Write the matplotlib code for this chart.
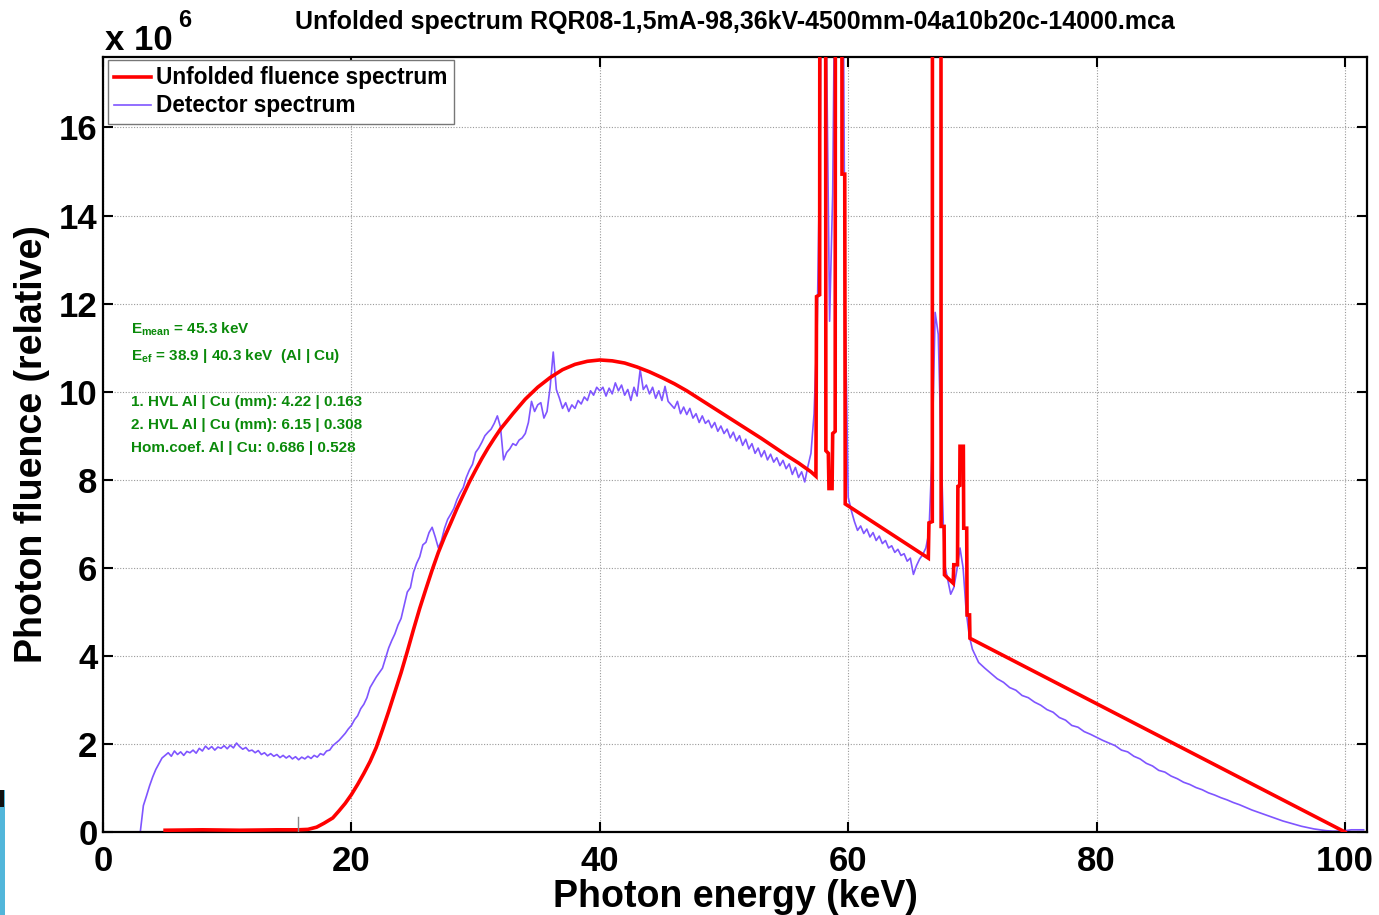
import numpy as np
import matplotlib
matplotlib.use('Agg')
import matplotlib.pyplot as plt
from matplotlib.patches import Rectangle

plt.rcParams['font.family'] = ['Liberation Sans', 'DejaVu Sans']
plt.rcParams['font.weight'] = 'bold'
plt.rcParams['mathtext.fontset'] = 'custom'
plt.rcParams['mathtext.rm'] = 'Liberation Sans:bold'
plt.rcParams['mathtext.bf'] = 'Liberation Sans:bold'
plt.rcParams['mathtext.it'] = 'Liberation Sans:bold'

# ---------------- data ----------------
title = "Unfolded spectrum RQR08-1,5mA-98,36kV-4500mm-04a10b20c-14000.mca"
xlabel = "Photon energy (keV)"
ylabel = "Photon fluence (relative)"
legend_labels = ["Unfolded fluence spectrum", "Detector spectrum"]
x_ticks = [0, 20, 40, 60, 80, 100]
y_ticks = [0, 2, 4, 6, 8, 10, 12, 14, 16]
annotation_lines = [
    r"E$_{\mathbf{mean}}$ = 45.3 keV",
    r"E$_{\mathbf{ef}}$ = 38.9 | 40.3 keV  (Al | Cu)",
    "1. HVL Al | Cu (mm): 4.22 | 0.163",
    "2. HVL Al | Cu (mm): 6.15 | 0.308",
    "Hom.coef. Al | Cu: 0.686 | 0.528",
]

# detector spectrum (x 1e6), channels 0..69.75 keV every 0.25 keV
detector_energy_lo = np.arange(0.0, 70.0, 0.25)
detector_counts_lo = [
    0, 0, 0, 0, 0, 0, 0, 0, 0, 0, 0, 0, 0, 0.60, 0.82, 1.05, 1.25, 1.42, 1.55, 1.68,
    1.74, 1.80, 1.72, 1.84, 1.76, 1.82, 1.74, 1.83, 1.80, 1.86, 1.79, 1.90, 1.84, 1.95, 1.88, 1.94, 1.86, 1.93, 1.90, 1.96,
    1.89, 1.97, 1.91, 2.02, 1.94, 1.88, 1.92, 1.84, 1.86, 1.80, 1.85, 1.76, 1.80, 1.73, 1.78, 1.72, 1.76, 1.69, 1.74, 1.68,
    1.73, 1.66, 1.71, 1.64, 1.70, 1.66, 1.72, 1.67, 1.74, 1.70, 1.78, 1.75, 1.84, 1.86, 1.96, 2.02, 2.08, 2.16, 2.24, 2.34,
    2.42, 2.55, 2.64, 2.80, 2.90, 3.05, 3.28, 3.40, 3.52, 3.62, 3.72, 3.95, 4.18, 4.35, 4.50, 4.70, 4.85, 5.15, 5.45, 5.55,
    5.90, 6.10, 6.25, 6.52, 6.58, 6.80, 6.92, 6.70, 6.45, 6.62, 6.90, 7.10, 7.22, 7.35, 7.55, 7.70, 7.82, 8.05, 8.22, 8.35,
    8.62, 8.72, 8.85, 9.00, 9.08, 9.15, 9.28, 9.45, 9.20, 8.45, 8.62, 8.70, 8.82, 8.78, 8.90, 8.95, 9.05, 9.30, 9.78, 9.55,
    9.70, 9.75, 9.40, 9.55, 10.10, 10.90, 10.05, 9.85, 9.62, 9.75, 9.55, 9.70, 9.62, 9.80, 9.72, 9.88, 9.80, 10.02, 9.92, 10.10,
    10.02, 10.10, 9.90, 10.08, 9.95, 10.20, 10.02, 10.15, 9.92, 10.05, 9.80, 10.10, 9.90, 10.50, 10.05, 10.15, 9.95, 10.10, 9.85, 10.02,
    9.80, 10.12, 9.78, 9.70, 9.62, 9.78, 9.50, 9.65, 9.48, 9.62, 9.40, 9.50, 9.30, 9.45, 9.28, 9.35, 9.18, 9.30, 9.10, 9.22,
    9.05, 9.15, 8.95, 9.08, 8.88, 9.00, 8.78, 8.92, 8.70, 8.82, 8.60, 8.72, 8.52, 8.66, 8.45, 8.58, 8.40, 8.50, 8.32, 8.44,
    8.25, 8.36, 8.12, 8.28, 8.05, 8.18, 7.95, 8.30, 8.60, 9.50, 11.5, 16.0, 30.0, 18.0, 11.6, 14.5, 22.0, 30.0, 24.0, 12.0,
    7.60, 7.30, 7.05, 6.85, 6.95, 6.78, 6.88, 6.70, 6.80, 6.62, 6.72, 6.55, 6.62, 6.45, 6.50, 6.35, 6.42, 6.28, 6.32, 6.15,
    6.22, 5.85, 6.05, 6.20, 6.30, 6.45, 6.80, 8.60, 11.8, 11.3, 8.50, 6.10, 5.75, 5.40, 5.55, 5.95, 6.45, 6.00, 5.00, 4.45,
]
# channels 70..101.5 keV every 0.5 keV
detector_energy_hi = np.arange(70.0, 102.0, 0.5)
detector_counts_hi = [
    4.15, 3.85, 3.72, 3.60, 3.48, 3.40, 3.28, 3.22, 3.10, 3.05,
    2.95, 2.88, 2.78, 2.72, 2.60, 2.54, 2.42, 2.38, 2.28, 2.22,
    2.15, 2.08, 2.02, 1.96, 1.86, 1.82, 1.72, 1.66, 1.56, 1.50,
    1.40, 1.36, 1.27, 1.21, 1.13, 1.08, 1.01, 0.96, 0.89, 0.84,
    0.78, 0.73, 0.67, 0.62, 0.56, 0.50, 0.45, 0.40, 0.35, 0.30,
    0.25, 0.21, 0.17, 0.13, 0.10, 0.07, 0.05, 0.03, 0.02, 0.02,
    0.03, 0.05, 0.05, 0.05,
]

# unfolded fluence spectrum (x 1e6)
unfolded_energy = [
    5.0, 8.0, 11.0, 14.0, 15.7, 16.5, 17.2, 17.8, 18.5, 19.0, 19.5, 20.0, 20.5, 21.0, 21.5, 22.0,
    22.5, 23.0, 23.5, 24.0, 24.5, 25.0, 25.5, 26.0, 26.5, 27.0, 27.5, 28.0, 28.5, 29.0, 29.5, 30.0,
    30.5, 31.0, 31.5, 32.0, 33.0, 34.0, 35.0, 36.0, 37.0, 38.0, 39.0, 40.0, 41.0, 42.0, 43.0, 44.0,
    45.0, 46.0, 47.0, 48.0, 49.0, 50.0, 51.0, 52.0, 53.0, 54.0, 55.0, 56.0, 57.0, 57.40,
    57.45, 57.70, 57.75, 58.15, 58.20, 58.40, 58.45, 58.70, 58.75, 58.95, 59.00, 59.45, 59.50, 59.72, 59.76,
    66.45, 66.50, 66.77, 66.80, 67.45, 67.48, 67.72, 67.75, 68.45, 68.50, 68.80, 68.83, 68.98, 69.00,
    69.27, 69.30, 69.54, 69.57, 69.77, 69.80, 100.0,
]
unfolded_fluence = [
    0.04, 0.05, 0.04, 0.05, 0.05, 0.06, 0.11, 0.20, 0.32, 0.48, 0.65, 0.85, 1.08, 1.33, 1.60, 1.92,
    2.32, 2.74, 3.18, 3.62, 4.10, 4.60, 5.08, 5.52, 5.95, 6.35, 6.70, 7.02, 7.35, 7.65, 7.95, 8.22,
    8.48, 8.72, 8.94, 9.15, 9.50, 9.83, 10.10, 10.32, 10.50, 10.62, 10.69, 10.72, 10.70, 10.65, 10.56, 10.45,
    10.32, 10.18, 10.02, 9.84, 9.66, 9.48, 9.30, 9.12, 8.94, 8.75, 8.56, 8.38, 8.18, 8.08,
    12.16, 12.20, 40.0, 40.0, 8.66, 8.60, 7.80, 7.80, 9.05, 9.10, 40.0, 40.0, 14.94, 14.94, 7.45,
    6.22, 7.02, 7.05, 40.0, 40.0, 6.94, 6.94, 5.84, 5.65, 6.07, 6.07, 7.85, 7.87, 8.76,
    8.76, 6.90, 6.90, 4.93, 4.93, 4.40, 0.0,
]

cutoff_marker_energy = [15.7, 15.7]
cutoff_marker_value = [0.0, 0.35]

# ---------------- figure ----------------
fig = plt.figure(figsize=(13.79, 9.15), dpi=100)
ax = fig.add_axes([0.0747, 0.0907, 0.9166, 0.847])

red = '#ff0000'
blue = '#7f55ff'
green = '#0a8a0a'

det_e = np.concatenate([detector_energy_lo, detector_energy_hi])
det_c = np.concatenate([detector_counts_lo, detector_counts_hi])
lb, = ax.plot(det_e, det_c, color=blue, lw=1.2, zorder=2, label=legend_labels[1])
lr, = ax.plot(unfolded_energy, unfolded_fluence, color=red, lw=2.6, zorder=3,
              solid_joinstyle='miter', label=legend_labels[0])
ax.plot(cutoff_marker_energy, cutoff_marker_value, color='#888888', lw=1.0, zorder=3)

ax.set_xlim(0, 101.77)
ax.set_ylim(0, 17.6)
ax.set_xticks(x_ticks)
ax.set_yticks(y_ticks)
ax.tick_params(direction='in', length=7, width=1.5, top=True, right=True,
               labelsize=25, pad=9)
ax.tick_params(axis='y', pad=4)
for s in ax.spines.values():
    s.set_linewidth(1.6)
ax.grid(True, linestyle=(0, (1, 1.5)), color='#9a9a9a', linewidth=0.8)
ax.set_axisbelow(True)

ax.set_title(title, fontsize=18, fontweight='bold', pad=20)
ax.set_xlabel(xlabel, fontsize=27, fontweight='bold', labelpad=1)
ax.set_ylabel(ylabel, fontsize=27, fontweight='bold', labelpad=6)

leg = ax.legend(handles=[lr, lb], loc='upper left', bbox_to_anchor=(0.004, 0.996),
                borderaxespad=0, fontsize=16.3, frameon=True, fancybox=False,
                edgecolor='#777777', handlelength=1.6, handletextpad=0.25,
                labelspacing=0.22, borderpad=0.28, framealpha=1)
leg.get_frame().set_linewidth(1.0)

ann_y = [11.41, 10.80, 9.77, 9.25, 8.73]
for txt, yy in zip(annotation_lines, ann_y):
    ax.text(2.25, yy, txt, color=green, fontsize=11, fontweight='bold', va='center', ha='left')

fig.text(105 / 1379, 1 - 50 / 915, "x 10", fontsize=25, fontweight='bold', ha='left', va='baseline')
fig.text(178 / 1379, 1 - 27 / 915, "6", fontsize=17, fontweight='bold', ha='left', va='baseline')

# screenshot artefact at lower-left edge
fig.patches.append(Rectangle((0, 0), 5 / 1379, 125 / 915, transform=fig.transFigure,
                             facecolor='#52b6da', edgecolor='none'))
fig.patches.append(Rectangle((0, 108 / 915), 4 / 1379, 17 / 915, transform=fig.transFigure,
                             facecolor='#111111', edgecolor='none'))

fig.savefig('out.png', dpi=100)
